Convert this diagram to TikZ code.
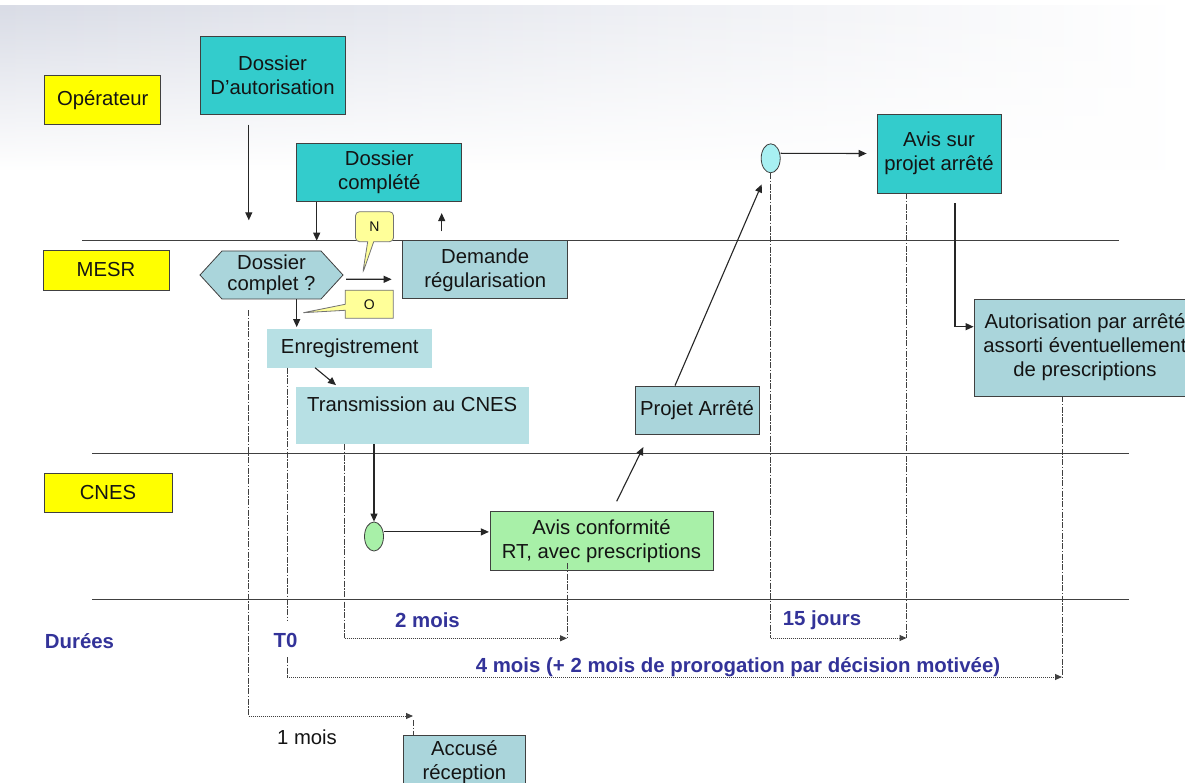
\documentclass[tikz,border=0pt]{standalone}
\usepackage{fontspec}
\setmainfont{Liberation Sans}
\usetikzlibrary{arrows.meta,shapes.geometric,shapes.symbols,shapes.callouts,fadings}
\definecolor{jaune}{HTML}{FFFF00}
\definecolor{bulle}{HTML}{FFFF99}
\definecolor{turq}{HTML}{33CCCC}
\definecolor{bleupale}{HTML}{B7E0E4}
\definecolor{bleugris}{HTML}{AAD5DB}
\definecolor{vert}{HTML}{A8F0A8}
\definecolor{cyanclair}{HTML}{A8F0F2}
\definecolor{indigo}{HTML}{333399}
\definecolor{fond}{HTML}{D9DCE6}
\definecolor{trait}{HTML}{404040}

\begin{document}
\begin{tikzpicture}[x=1pt,y=1pt]
\tikzstyle{every node}+=[inner sep=2pt,align=center,text=black!92,font=\fontsize{20.3}{24}\selectfont]
\tikzstyle{acteur}=[draw=trait,line width=0.8pt,fill=jaune]
\tikzstyle{piece}=[draw=trait,line width=0.8pt,fill=turq]
\tikzstyle{etape}=[fill=bleupale]
\tikzstyle{decision}=[draw=trait,line width=0.8pt,fill=bleugris]
\tikzstyle{avisvert}=[draw=trait,line width=0.8pt,fill=vert]
\tikzstyle{bulle}=[rectangle callout,draw=black!55,line width=0.8pt,fill=bulle,callout pointer width=6pt,font=\fontsize{14}{16}\selectfont]
\tikzstyle{jalon}=[ellipse,draw=trait,line width=0.8pt,minimum width=19,minimum height=29,inner sep=0pt]
\tikzstyle{duree}=[text=indigo,font=\fontsize{20.4}{24}\selectfont\bfseries]
\tikzstyle{lane}=[draw=trait,line width=0.9pt]
\tikzstyle{arr}=[draw=black!85,line width=1.1pt,-{Triangle[length=8pt,width=7pt]}]
\tikzstyle{repere}=[draw=black!75,line width=0.8pt,dash pattern=on 6pt off 1.5pt on 1.5pt off 1.5pt]
\tikzstyle{delai}=[draw=black!75,line width=1pt,dash pattern=on 1pt off 1pt,-{Triangle[length=7pt,width=6pt]}]
\useasboundingbox (0,0) rectangle (1185,-783);
\clip (0,0) rectangle (1185,-783);
\fill [white] (0,0) rectangle (1185,-783);
\shade [left color=fond,right color=white,path fading=south] (0,-6) rectangle (1185,-170);
\draw [lane] (82,-240.5) -- (1119,-240.5);
\draw [lane] (92,-453) -- (1129,-453);
\draw [lane] (92,-599.5) -- (1129,-599.5);
\draw (102.7,-99.8) node [acteur,minimum width=116,minimum height=49] (oper) {Opérateur};
\draw (106,-270) node [acteur,minimum width=126,minimum height=40] (mesr) {MESR};
\draw (108,-492.5) node [acteur,minimum width=128,minimum height=39] (cnes) {CNES};
\draw (79.5,-641) node [duree] (durees) {Durées};
\draw (272.5,-75.2) node [piece,minimum width=145,minimum height=78] (dossAut) {Dossier\\D'autorisation};
\draw (379.3,-172.5) node [piece,minimum width=165,minimum height=58] (dossComp) {Dossier\\complété};
\draw (939,-153.5) node [piece,minimum width=124,minimum height=79] (avisProj) {Avis sur\\projet arrêté};
\draw (271.5,-275) node [decision,signal,signal to=east and west,signal pointer angle=95,minimum width=143,minimum height=48,font=\fontsize{20.3}{21.5}\selectfont] (complet) {Dossier\\complet ?};
\draw (485.2,-269.9) node [decision,minimum width=165,minimum height=58] (demande) {Demande\\régularisation};
\draw (374.5,-226.7) node [bulle,rounded corners=4pt,minimum width=38,minimum height=30,callout absolute pointer={(362.7,-273.3)}] (bulleN) {N};
\draw (369.2,-304.2) node [bulle,minimum width=48,minimum height=28,callout absolute pointer={(303.3,-312.7)}] (bulleO) {O};
\draw (349.8,-348) node [etape,minimum width=165,minimum height=39] (enreg) {Enregistrement};
\draw (412.2,-415.3) node [etape,minimum width=233,minimum height=57,text depth=22pt] (trans) {Transmission au CNES};
\draw (697,-410) node [decision,minimum width=124,minimum height=48] (projet) {Projet Arrêté};
\draw (1085,-347.5) node [decision,minimum width=222,minimum height=97] (autor) {Autorisation par arrêté\\assorti éventuellement\\de prescriptions};
\draw (601.5,-541.2) node [avisvert,minimum width=223,minimum height=59] (avisConf) {Avis conformité\\RT, avec prescriptions};
\draw (464.4,-762.5) node [decision,minimum width=122,minimum height=55] (accuse) {Accusé\\réception};
\draw (770.7,-158.3) node [jalon,fill=cyanclair] (ellCyan) {};
\draw (374,-536.5) node [jalon,fill=vert] (ellVert) {};
\draw (285.5,-640) node [duree] (t0) {T0};
\draw (427.5,-620) node [duree] (deuxMois) {2 mois};
\draw (822,-620) node [duree] (quinze) {15 jours};
\draw (738,-667) node [duree] (quatreMois) {4 mois (+ 2 mois de prorogation par décision motivée)};
\draw (307,-737) node (unMois) {1 mois};
\coordinate (mesrIn) at (248.8,-220.3);
\coordinate (compIn) at (316.7,-240.7);
\coordinate (t1) at (248.5,-716);
\coordinate (t1e) at (413,-716);
\coordinate (t0a) at (287.3,-620);
\coordinate (t0b) at (287.3,-657);
\coordinate (t0c) at (287.3,-677);
\coordinate (t0e) at (1062,-677);
\coordinate (m2a) at (344.5,-638.3);
\coordinate (m2b) at (567,-638.3);
\coordinate (j15a) at (770.7,-638);
\coordinate (j15b) at (906.5,-638);
\draw [repere] ([xshift=-23pt,yshift=-11pt]complet.south) -- (t1);
\draw [delai] (t1) -- (t1e);
\draw [repere] ([yshift=-4pt]t1e) -- (t1e |- accuse.north);
\draw [repere] ([xshift=-62.5pt]enreg.south) -- (t0a);
\draw [repere] (t0b) -- (t0c);
\draw [delai] (t0c) -- (t0e);
\draw [repere] ([xshift=-23pt]autor.south) -- (t0e);
\draw [repere] ([xshift=-67.7pt]trans.south) -- (m2a);
\draw [delai] (m2a) -- (m2b);
\draw [repere] ([xshift=-34.5pt,yshift=8pt]avisConf.south) -- (m2b);
\draw [repere] (ellCyan.south) -- (j15a);
\draw [delai] (j15a) -- (j15b);
\draw [repere] ([xshift=-32.5pt]avisProj.south) -- (j15b);
\draw [arr] ([xshift=-23.7pt,yshift=-10pt]dossAut.south) -- (mesrIn);
\draw [arr] ([xshift=-62.6pt]dossComp.south) -- (compIn);
\draw [arr] ([xshift=-43.5pt,yshift=9pt]demande.north) -- ([xshift=-43.5pt,yshift=27.4pt]demande.north);
\draw [arr] ([xshift=2.7pt,yshift=-4.3pt]complet.east) -- ([xshift=-10.7pt,yshift=-9.4pt]demande.west);
\draw [arr] ([xshift=25.2pt]complet.south) -- ++(0,-27.7);
\draw [arr] ([xshift=-34.8pt]enreg.south) -- ([xshift=-76.2pt,yshift=1.5pt]trans.north);
\draw [arr] (trans.south -| ellVert.north) -- (ellVert.north);
\draw [arr] ([yshift=4.6pt]ellVert.east) -- ++(105,0);
\draw [arr] ([xshift=15.2pt,yshift=10pt]avisConf.north) -- ([xshift=-53.7pt,yshift=-12.7pt]projet.south);
\draw [arr] ([xshift=-22pt]projet.north) -- ([xshift=-9pt,yshift=-11.2pt]ellCyan.south);
\draw [arr] ([yshift=5pt]ellCyan.east) -- ([xshift=-10pt]avisProj.west);
\draw [arr] ([xshift=16pt,yshift=-9.7pt]avisProj.south) |- ([yshift=20.8pt]autor.west);
\end{tikzpicture}
\end{document}
